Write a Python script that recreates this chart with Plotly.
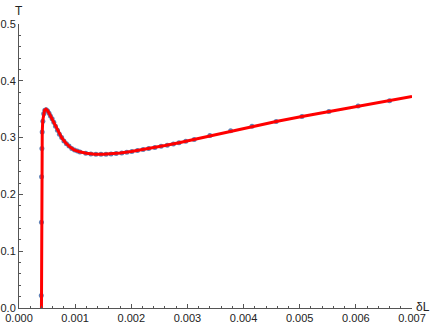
import plotly.graph_objects as go

# Red curve
curve_dL = [0.000400, 0.000402, 0.000405, 0.000409, 0.000414, 0.000423, 0.000437, 0.000455,
            0.000480, 0.000505, 0.000530, 0.000560, 0.000600, 0.000650, 0.000700, 0.000760,
            0.000830, 0.000900, 0.000980, 0.001080, 0.001200, 0.001350, 0.001500, 0.001650,
            0.001800, 0.002000, 0.002200, 0.002400, 0.002600, 0.002850, 0.003100, 0.003400,
            0.003770, 0.004150, 0.004580, 0.005040, 0.005520, 0.006040, 0.006600, 0.007000]
curve_T = [0.000, 0.150, 0.230, 0.280, 0.310, 0.330, 0.342, 0.348,
           0.350, 0.348, 0.344, 0.338, 0.331, 0.320, 0.310, 0.300,
           0.291, 0.284, 0.2785, 0.2750, 0.2725, 0.2708, 0.2705, 0.2712,
           0.2728, 0.2755, 0.2787, 0.2820, 0.2860, 0.2910, 0.2965, 0.3035,
           0.3120, 0.3200, 0.3285, 0.3370, 0.3460, 0.3555, 0.3650, 0.3725]

# Sample points
dots_dL = [0.000397, 0.000400, 0.000402, 0.000408, 0.000413, 0.000425, 0.000440, 0.000460,
           0.000485, 0.000510, 0.000535, 0.000560, 0.000590, 0.000620, 0.000650, 0.000685,
           0.000720, 0.000760, 0.000800, 0.000845, 0.000890, 0.000940, 0.000990, 0.001040,
           0.001085, 0.00119, 0.00128, 0.00137, 0.00146, 0.00155, 0.00164, 0.00173,
           0.00183, 0.00192, 0.00201, 0.00211, 0.00221, 0.00231, 0.00242, 0.00253,
           0.00264, 0.00275, 0.00285, 0.00297, 0.00312, 0.00340, 0.00377, 0.00415,
           0.00458, 0.00504, 0.00552, 0.00604, 0.00660]
dots_T = [0.022, 0.151, 0.231, 0.281, 0.310, 0.329, 0.342, 0.348,
          0.349, 0.347, 0.343, 0.338, 0.333, 0.327, 0.320, 0.313,
          0.306, 0.300, 0.294, 0.289, 0.285, 0.281, 0.278, 0.2762,
          0.2748, 0.2725, 0.2713, 0.2707, 0.2705, 0.2707, 0.2712, 0.2720,
          0.2731, 0.2743, 0.2756, 0.2772, 0.2790, 0.2807, 0.2826, 0.2847,
          0.2867, 0.2889, 0.2910, 0.2934, 0.2966, 0.3035, 0.3120, 0.3200,
          0.3285, 0.3370, 0.3460, 0.3555, 0.3650]

x_ticks = [0.000, 0.001, 0.002, 0.003, 0.004, 0.005, 0.006, 0.007]
x_labels = ["0.000", "0.001", "0.002", "0.003", "0.004", "0.005", "0.006", "0.007"]
y_ticks = [0.0, 0.1, 0.2, 0.3, 0.4, 0.5]
y_labels = ["0.0", "0.1", "0.2", "0.3", "0.4", "0.5"]

fig = go.Figure()
fig.add_trace(go.Scatter(x=dots_dL, y=dots_T, mode="markers",
                         marker=dict(size=5, color="#5E81B5"), showlegend=False,
                         cliponaxis=False))
fig.add_trace(go.Scatter(x=curve_dL, y=curve_T, mode="lines",
                         line=dict(color="#FF0000", width=3), showlegend=False,
                         cliponaxis=False))

axis_common = dict(showgrid=False, zeroline=False, showline=True, linecolor="#555555",
                   linewidth=1, ticks="inside", ticklen=4, tickcolor="#555555",
                   automargin=False,
                   tickfont=dict(family="Liberation Sans, Arial", size=11, color="#222222"))
fig.update_xaxes(range=[0, 0.007], tickvals=x_ticks, ticktext=x_labels,
                 minor=dict(ticks="inside", ticklen=2, dtick=0.0002, tickcolor="#555555"),
                 **axis_common)
fig.update_yaxes(range=[0, 0.5], tickvals=y_ticks, ticktext=y_labels,
                 minor=dict(ticks="inside", ticklen=2, dtick=0.02, tickcolor="#555555"),
                 **axis_common)

fig.add_annotation(x=0, y=1, xref="paper", yref="paper", text="T", showarrow=False,
                   xanchor="center", yanchor="bottom", yshift=4,
                   font=dict(family="Liberation Sans, Arial", size=12, color="#222222"))
fig.add_annotation(x=1, y=0, xref="paper", yref="paper", text="δL", showarrow=False,
                   xanchor="left", yanchor="bottom", xshift=2, yshift=-8,
                   font=dict(family="Liberation Sans, Arial", size=12, color="#222222"))

fig.update_layout(width=436, height=327, margin=dict(l=19, r=24, t=24, b=19),
                  plot_bgcolor="white", paper_bgcolor="white")
fig.write_html("out.html", config={"displayModeBar": False},
               post_script="document.body.style.margin='0';document.body.style.padding='0';")
